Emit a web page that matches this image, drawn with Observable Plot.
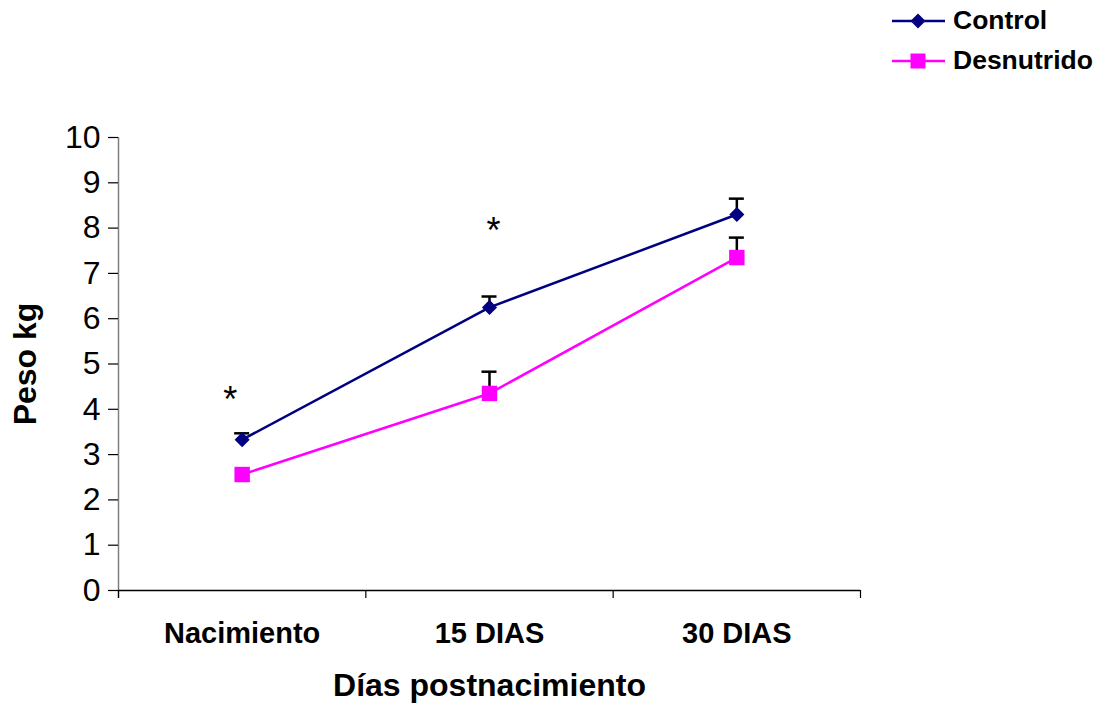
<!DOCTYPE html>
<html>
<head>
<meta charset="utf-8">
<script src="https://cdn.jsdelivr.net/npm/d3@7"></script>
<script src="https://cdn.jsdelivr.net/npm/@observablehq/plot@0.6"></script>
<style>
  body { margin: 0; background: white; font-family: "Liberation Sans", Arial, sans-serif; }
  #wrap { position: relative; width: 1097px; height: 703px; }
  #legend { position: absolute; left: 892px; top: 0; }
  .item { position: absolute; left: 0; display: flex; align-items: center; white-space: nowrap; }
  .item span { font-weight: bold; font-size: 26.5px; margin-left: 8px; color: black; }
</style>
</head>
<body>
<div id="wrap">
  <div id="chart"></div>
  <div id="legend"></div>
</div>
<script>
const categories = ["Nacimiento", "15 DIAS", "30 DIAS"];
const control = [3.33, 6.25, 8.30];
const controlErr = [0.14, 0.24, 0.35];
const desnutrido = [2.56, 4.35, 7.35];
const desnutridoErr = [0, 0.48, 0.44];
const yTicks = [0, 1, 2, 3, 4, 5, 6, 7, 8, 9, 10];
const sigCategories = ["Nacimiento", "15 DIAS"];
const sigY = [4.2, 7.92];

const seriesNames = ["Control", "Desnutrido"];
const colors = {Control: "#000080", Desnutrido: "#FF00FF"};

const rows = categories.map((c, i) => ({
  pos: i + 0.5, cat: c,
  control: control[i], controlTop: control[i] + controlErr[i], controlErr: controlErr[i],
  desn: desnutrido[i], desnTop: desnutrido[i] + desnutridoErr[i], desnErr: desnutridoErr[i]
}));
const sig = sigCategories.map((c, j) => ({pos: categories.indexOf(c) + 0.5, y: sigY[j], cat: c}));

const errRows = [
  ...rows.filter(d => d.controlErr > 0).map(d => ({pos: d.pos, y1: d.control, y2: d.controlTop})),
  ...rows.filter(d => d.desnErr > 0).map(d => ({pos: d.pos, y1: d.desn, y2: d.desnTop}))
];

const font = "'Liberation Sans', Arial, sans-serif";

const chart = Plot.plot({
  width: 1097,
  height: 703,
  marginLeft: 118,
  marginRight: 237,
  marginTop: 137,
  marginBottom: 113,
  style: {fontFamily: font, background: "white", color: "black"},
  x: {type: "linear", domain: [0, 3]},
  y: {domain: [0, 10]},
  marks: [
    Plot.ruleX([0], {stroke: "#808080", strokeWidth: 1.5, insetBottom: -8}),
    Plot.axisY({ticks: yTicks, tickSize: 10, tickPadding: 8, fontSize: 32, tickFormat: d => String(d), label: null, stroke: "black", strokeWidth: 1.2, fill: "black"}),
    Plot.axisX({ticks: [0, 1, 2, 3], tickSize: 8, tickFormat: () => "", label: null, stroke: "black", strokeWidth: 1.2}),
    Plot.axisX({ticks: rows.map(d => d.pos), tickSize: 0, tickPadding: 32, tickFormat: d => categories[Math.floor(d)], fontSize: 29, fontWeight: "bold", label: null, fill: "black"}),
    Plot.ruleY([0], {stroke: "#000", strokeWidth: 1.5}),
    // error bars
    Plot.ruleX(errRows, {x: "pos", y1: "y1", y2: "y2", stroke: "black", strokeWidth: 2.5}),
    Plot.ruleY(errRows, {y: "y2", x1: "pos", x2: "pos", insetLeft: -7.5, insetRight: -7.5, stroke: "black", strokeWidth: 2.5}),
    // lines
    Plot.line(rows, {x: "pos", y: "control", stroke: colors.Control, strokeWidth: 2.5}),
    Plot.line(rows, {x: "pos", y: "desn", stroke: colors.Desnutrido, strokeWidth: 2.5}),
    Plot.dot(rows, {x: "pos", y: "control", symbol: "diamond2", r: 6.8, fill: colors.Control, stroke: "none"}),
    Plot.dot(rows, {x: "pos", y: "desn", symbol: "square", r: 8.7, fill: colors.Desnutrido, stroke: "none"}),
    // significance asterisks
    Plot.text(sig.filter(d => d.cat === "Nacimiento"), {x: "pos", y: "y", text: () => "*", dx: -12, fontSize: 36, fill: "black"}),
    Plot.text(sig.filter(d => d.cat === "15 DIAS"), {x: "pos", y: "y", text: () => "*", dx: 4, fontSize: 36, fill: "black"}),
    // axis titles
    Plot.text(["Días postnacimiento"], {frameAnchor: "bottom", dy: 95, textAnchor: "middle", lineAnchor: "middle", fontSize: 32, fontWeight: "bold", fill: "black"}),
    Plot.text(["Peso kg"], {frameAnchor: "left", dx: -93, rotate: -90, textAnchor: "middle", lineAnchor: "middle", fontSize: 32, fontWeight: "bold", fill: "black"})
  ]
});
document.getElementById("chart").appendChild(chart);

// legend
const legend = document.getElementById("legend");
const symbols = {Control: "diamond", Desnutrido: "square"};
const tops = [20, 60];
seriesNames.forEach((name, k) => {
  const item = document.createElement("div");
  item.className = "item";
  item.style.top = (tops[k] - 15) + "px";
  const c = colors[name];
  const shape = symbols[name] === "diamond"
    ? `<polygon points="26,7.5 33.5,15 26,22.5 18.5,15" fill="${c}"/>`
    : `<rect x="18.5" y="7.5" width="15" height="15" fill="${c}"/>`;
  item.innerHTML = `<svg width="53" height="30"><line x1="0" x2="53" y1="15" y2="15" stroke="${c}" stroke-width="2.5"/>${shape}</svg><span>${name}</span>`;
  legend.appendChild(item);
});
</script>
</body>
</html>
